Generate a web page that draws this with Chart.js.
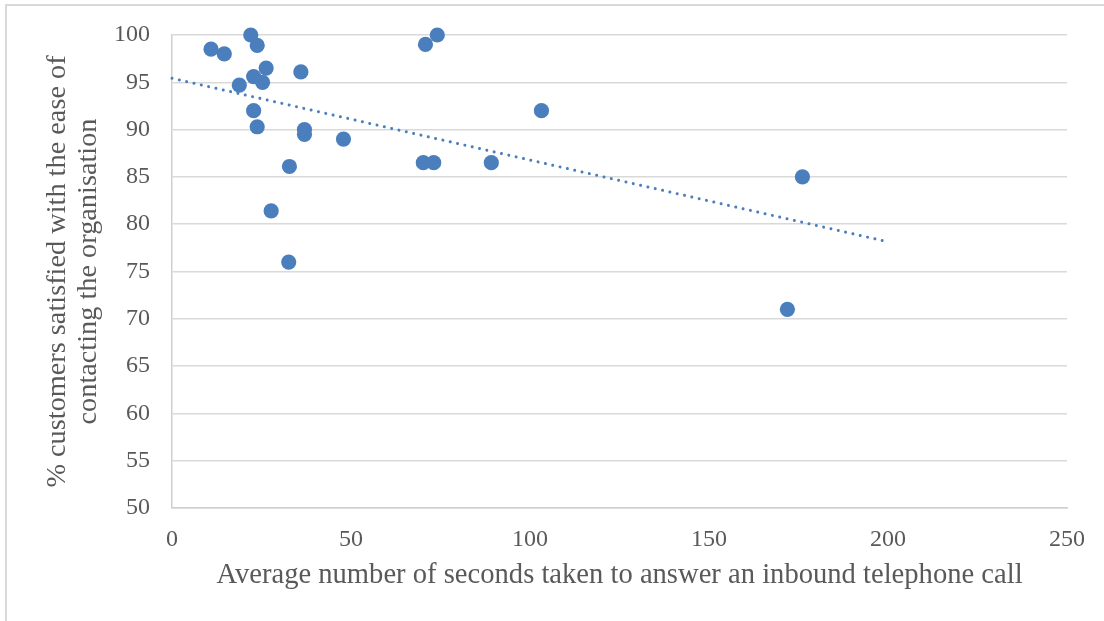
<!DOCTYPE html>
<html>
<head>
<meta charset="utf-8">
<title>Call answer time vs. ease of contact</title>
<script src="https://cdn.jsdelivr.net/npm/chart.js@4/dist/chart.umd.min.js"></script>
<style>
  html, body { margin: 0; padding: 0; background: #ffffff; }
  #wrap { width: 1104px; height: 621px; position: relative; }
</style>
</head>
<body>
<div id="wrap"><canvas id="chart" width="1104" height="621"></canvas></div>
<script>
// Average seconds to answer an inbound call, per organisation
const seconds = [10.9, 14.6, 22.0, 23.8, 26.3, 36.0, 22.8, 25.3, 18.8, 22.8, 23.8, 37.0, 37.0,
                 47.9, 32.8, 27.7, 32.6, 74.1, 70.8, 103.2, 70.2, 73.1, 89.2, 176.1, 171.9];
// % customers satisfied with the ease of contacting the organisation
const satisfied = [98.5, 98.0, 100, 98.9, 96.5, 96.1, 95.6, 95.0, 94.7, 92.0, 90.3, 90.0, 89.5,
                   89.0, 86.1, 81.4, 76.0, 100, 99.0, 92.0, 86.5, 86.5, 86.5, 85.0, 71.0];

const xTicks = [0, 50, 100, 150, 200, 250];
const yTicks = [50, 55, 60, 65, 70, 75, 80, 85, 90, 95, 100];
const trendRange = [0, 200];

const xTitle = 'Average number of seconds taken to answer an inbound telephone call';
const yTitle = ['% customers satisfied with the ease of', 'contacting the organisation'];

// Least-squares linear trend through the points
function linearFit(xs, ys) {
  const n = xs.length;
  const mx = xs.reduce((a, b) => a + b, 0) / n;
  const my = ys.reduce((a, b) => a + b, 0) / n;
  let sxy = 0, sxx = 0;
  for (let i = 0; i < n; i++) {
    sxy += (xs[i] - mx) * (ys[i] - my);
    sxx += (xs[i] - mx) * (xs[i] - mx);
  }
  const slope = sxy / sxx;
  return { slope, intercept: my - slope * mx };
}
const fit = linearFit(seconds, satisfied);
const trendPoints = trendRange.map(x => ({ x, y: fit.intercept + fit.slope * x }));

const points = seconds.map((x, i) => ({ x, y: satisfied[i] }));

const FONT = '"Liberation Serif", "Times New Roman", serif';
const TEXT = '#595959';
const BLUE = 'rgb(74,126,189)';

// Light frame around the chart
const framePlugin = {
  id: 'frame',
  beforeDraw(chart) {
    const ctx = chart.ctx;
    ctx.save();
    ctx.fillStyle = '#ffffff';
    ctx.fillRect(0, 0, chart.width, chart.height);
    ctx.strokeStyle = '#d9d9d9';
    ctx.lineWidth = 2;
    ctx.strokeRect(6, 5, chart.width + 20, chart.height + 20);
    ctx.restore();
  }
};

new Chart(document.getElementById('chart'), {
  type: 'scatter',
  data: {
    datasets: [
      {
        type: 'line',
        label: 'Linear trend',
        data: trendPoints,
        borderColor: BLUE,
        borderWidth: 3,
        borderDash: [0.01, 7.5],
        borderCapStyle: 'round',
        pointRadius: 0,
        fill: false,
        clip: false,
        order: 0
      },
      {
        label: 'Organisations',
        data: points,
        backgroundColor: BLUE,
        borderColor: BLUE,
        borderWidth: 0,
        pointRadius: 7.6,
        pointHoverRadius: 7.6,
        clip: false,
        order: 1
      }
    ]
  },
  options: {
    responsive: false,
    animation: false,
    events: [],
    layout: { padding: { top: 35, right: 37, bottom: 0, left: 0 } },
    plugins: {
      legend: { display: false },
      tooltip: { enabled: false }
    },
    scales: {
      x: {
        type: 'linear',
        min: xTicks[0],
        max: xTicks[xTicks.length - 1],
        afterBuildTicks(scale) { scale.ticks = xTicks.map(v => ({ value: v })); },
        afterFit(scale) {
          scale.height = 113;
          scale.paddingLeft = 0;
          scale.paddingRight = 0;
        },
        ticks: {
          font: { family: FONT, size: 24 },
          color: TEXT,
          padding: 17,
          maxRotation: 0
        },
        grid: { drawOnChartArea: false, drawTicks: false },
        border: { display: true, color: '#cfcfcf', width: 1.5 },
        title: {
          display: true,
          text: xTitle,
          font: { family: FONT, size: 28.6, lineHeight: 1.09 },
          color: TEXT,
          padding: { top: 0, bottom: 30 }
        }
      },
      y: {
        type: 'linear',
        min: yTicks[0],
        max: yTicks[yTicks.length - 1],
        afterBuildTicks(scale) { scale.ticks = yTicks.map(v => ({ value: v })); },
        afterFit(scale) {
          scale.width = 172;
          scale.paddingTop = 0;
          scale.paddingBottom = 0;
        },
        ticks: {
          font: { family: FONT, size: 24 },
          color: TEXT,
          padding: 22
        },
        grid: { color: '#d9d9d9', lineWidth: 1.5, drawTicks: false },
        border: { display: true, color: '#cfcfcf', width: 1.5 },
        title: {
          display: true,
          text: yTitle,
          font: { family: FONT, size: 28.3, lineHeight: 1.09 },
          color: TEXT,
          padding: { top: 42, bottom: 0 }
        }
      }
    }
  },
  plugins: [framePlugin]
});
</script>
</body>
</html>
